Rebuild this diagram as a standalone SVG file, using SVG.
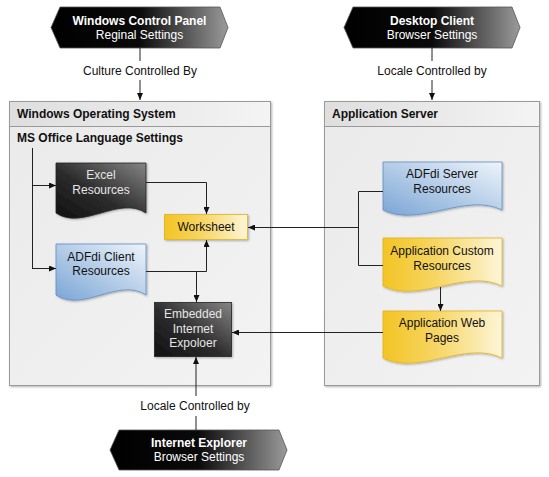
<svg xmlns="http://www.w3.org/2000/svg" width="549" height="477" viewBox="0 0 549 477">
<defs>
<linearGradient id="gHex" x1="0" y1="0" x2="1" y2="0">
<stop offset="0" stop-color="#000"/>
<stop offset="0.5" stop-color="#0a0a0a"/>
<stop offset="1" stop-color="#9a9a9a"/>
</linearGradient>
<linearGradient id="gDark" x1="0" y1="1" x2="1" y2="0">
<stop offset="0" stop-color="#111"/>
<stop offset="0.45" stop-color="#2c2c2c"/>
<stop offset="1" stop-color="#858585"/>
</linearGradient>
<linearGradient id="gBlue" x1="0" y1="1" x2="1" y2="0">
<stop offset="0" stop-color="#7ba5d5"/>
<stop offset="1" stop-color="#eef4fa"/>
</linearGradient>
<linearGradient id="gYellow" x1="0" y1="0" x2="1" y2="0">
<stop offset="0" stop-color="#f3c424"/>
<stop offset="0.45" stop-color="#f6d664"/>
<stop offset="1" stop-color="#fdf5d8"/>
</linearGradient>
<linearGradient id="gHead" x1="0" y1="0" x2="1" y2="0">
<stop offset="0" stop-color="#dedede"/>
<stop offset="1" stop-color="#f4f4f4"/>
</linearGradient>
<linearGradient id="gBody" x1="0" y1="0" x2="1" y2="1">
<stop offset="0" stop-color="#eaeaea"/>
<stop offset="1" stop-color="#f3f3f3"/>
</linearGradient>
<filter id="sh" x="-10%" y="-10%" width="130%" height="130%">
<feDropShadow dx="1" dy="1" stdDeviation="0.8" flood-color="#000" flood-opacity="0.3"/>
</filter>
<marker id="ah" markerWidth="7" markerHeight="6" refX="7" refY="3" orient="auto" markerUnits="userSpaceOnUse">
<path d="M0,0 L7,3 L0,6 z" fill="#111"/>
</marker>
</defs>
<style>
text{font-family:"Liberation Sans",Arial,Helvetica,sans-serif;font-size:12px;fill:#111}
.b{font-weight:bold}
.m{text-anchor:middle}
.w{fill:#fff}
.lw{fill:#e6e6e6}
.cont{fill:url(#gBody);stroke:#9a9a9a;stroke-width:1}
.head{fill:url(#gHead);stroke:#9a9a9a;stroke-width:1}
.hex{fill:url(#gHex);stroke:#555;stroke-width:0.8}
.dark{fill:url(#gDark);stroke:#222;stroke-width:0.8}
.blue{fill:url(#gBlue);stroke:#5e8ec4;stroke-width:0.8}
.yel{fill:url(#gYellow);stroke:#e2b320;stroke-width:0.8}
.ln{fill:none;stroke:#222;stroke-width:1}
.arr{marker-end:url(#ah)}
</style>

<g id="windows-os">
<rect class="cont" x="9.5" y="101.5" width="261" height="284" filter="url(#sh)"/>
<rect class="head" x="9.5" y="101.5" width="261" height="25"/>
<text class="b" x="17" y="118">Windows Operating System</text>
<text class="b" x="17" y="142">MS Office Language Settings</text>
</g>

<g id="app-server">
<rect class="cont" x="324.5" y="101.5" width="215" height="284" filter="url(#sh)"/>
<rect class="head" x="324.5" y="101.5" width="215" height="25"/>
<text class="b" x="332" y="118">Application Server</text>
</g>

<g id="windows-control-panel">
<path class="hex" d="M51,27.5 L60,7 H220 L228,27.5 L220,48 H60 Z"/>
<text class="b m w" x="139.5" y="24.5">Windows Control Panel</text>
<text class="m w" x="139.5" y="39">Reginal Settings</text>
</g>

<g id="desktop-client">
<path class="hex" d="M344,27.5 L353,7 H512 L520,27.5 L512,48 H353 Z"/>
<text class="b m w" x="432" y="24.5">Desktop Client</text>
<text class="m w" x="432" y="39">Browser Settings</text>
</g>

<g id="internet-explorer">
<path class="hex" d="M110,450 L119,430 H279 L287,450 L279,470 H119 Z"/>
<text class="b m w" x="199" y="446.5">Internet Explorer</text>
<text class="m w" x="199" y="461">Browser Settings</text>
</g>

<g id="excel-resources">
<path class="dark" filter="url(#sh)" d="M56,163 H146 V213 C119,195 83,231 56,213 Z"/>
<text class="m lw" x="101" y="179">Excel</text>
<text class="m lw" x="101" y="194">Resources</text>
</g>

<g id="adfdi-client-resources">
<path class="blue" filter="url(#sh)" d="M56,244 H146 V295 C119,277 83,313 56,295 Z"/>
<text class="m" x="101" y="261">ADFdi Client</text>
<text class="m" x="101" y="275">Resources</text>
</g>

<g id="worksheet">
<rect class="yel" filter="url(#sh)" x="164.5" y="214.5" width="83" height="25"/>
<text class="m" x="206" y="231">Worksheet</text>
</g>

<g id="embedded-ie">
<rect class="dark" filter="url(#sh)" x="154.5" y="302.5" width="77" height="54"/>
<text class="m lw" x="193" y="318">Embedded</text>
<text class="m lw" x="193" y="333">Internet</text>
<text class="m lw" x="193" y="347">Expoloer</text>
</g>

<g id="adfdi-server-resources">
<path class="blue" filter="url(#sh)" d="M383,162 H502 V210 C466,192 419,228 383,210 Z"/>
<text class="m" x="442" y="178">ADFdi Server</text>
<text class="m" x="442" y="193">Resources</text>
</g>

<g id="app-custom-resources">
<path class="yel" filter="url(#sh)" d="M383,238 H502 V286 C466,268 419,304 383,286 Z"/>
<text class="m" x="442" y="255">Application Custom</text>
<text class="m" x="442" y="270">Resources</text>
</g>

<g id="app-web-pages">
<path class="yel" filter="url(#sh)" d="M383,311 H502 V358 C466,340 419,376 383,358 Z"/>
<text class="m" x="442" y="327">Application Web</text>
<text class="m" x="442" y="342">Pages</text>
</g>

<g id="connectors">
<path class="ln" d="M140,48 V61"/>
<path class="ln arr" d="M140,80 V100"/>
<text class="m" x="140" y="75">Culture Controlled By</text>
<path class="ln" d="M432,48 V61"/>
<path class="ln arr" d="M432,80 V100"/>
<text class="m" x="432" y="75">Locale Controlled by</text>
<path class="ln" d="M196,430 V416"/>
<path class="ln arr" d="M196,396 V357"/>
<text class="m" x="195" y="410">Locale Controlled by</text>

<path class="ln" d="M32.5,148 V268.5"/>
<path class="ln arr" d="M32,185.5 H56"/>
<path class="ln arr" d="M32,268.5 H56"/>

<path class="ln arr" d="M146,182.5 H206.5 V214"/>
<path class="ln arr" d="M146,271.5 H206.5 V240"/>
<path class="ln arr" d="M196.5,271.5 V302"/>

<path class="ln" d="M383,191.5 H358.5 V265.5 H383"/>
<path class="ln arr" d="M358.5,227.5 H248"/>
<path class="ln arr" d="M440.5,287 V311"/>
<path class="ln arr" d="M383,332.5 H232"/>
</g>
</svg>
